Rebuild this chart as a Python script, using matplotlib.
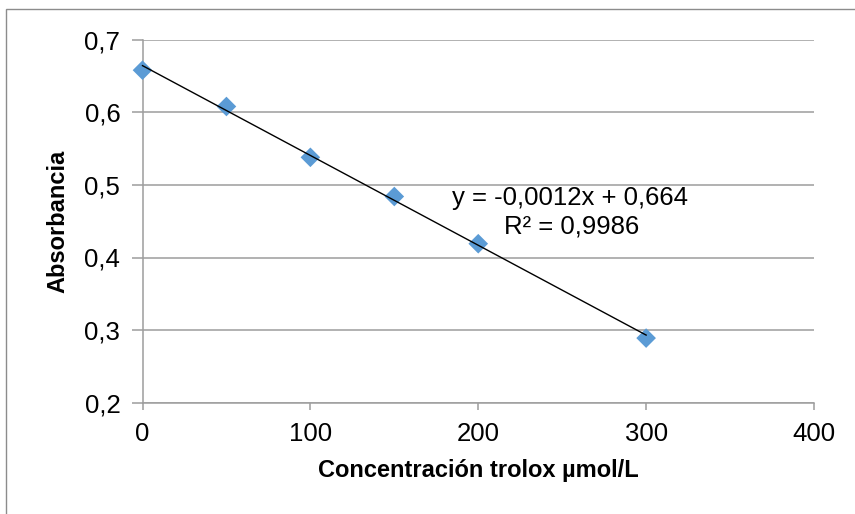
import numpy as np
import matplotlib
matplotlib.use("Agg")
import matplotlib.pyplot as plt
from matplotlib.patches import Rectangle
from matplotlib.ticker import FuncFormatter

# Trolox calibration data
concentracion = [0, 50, 100, 150, 200, 300]          # µmol/L
absorbancia = [0.658, 0.608, 0.538, 0.484, 0.419, 0.289]
x_ticks = [0, 100, 200, 300, 400]
y_ticks = [0.2, 0.3, 0.4, 0.5, 0.6, 0.7]

plt.rcParams['font.family'] = ['Liberation Sans', 'DejaVu Sans']

W, H = 855, 514
fig = plt.figure(figsize=(W / 100, H / 100), dpi=100)

# outer chart frame (left and top edges visible)
fig.patches.append(Rectangle((6 / W, -0.2), 1.5, 1 - 9 / H + 0.2,
                             transform=fig.transFigure, fill=False,
                             edgecolor='#8c8c8c', lw=1.0))

left, right = 142.5 / W, 814 / W
top, bottom = 1 - 39.7 / H, 1 - 402.7 / H
ax = fig.add_axes([left, bottom, right - left, top - bottom])

grid_c = '#9d9d9d'
ax.set_xlim(0, 400)
ax.set_ylim(0.2, 0.7)
ax.set_xticks(x_ticks)
ax.set_yticks(y_ticks)
ax.yaxis.set_major_formatter(FuncFormatter(lambda v, p: f"{v:.1f}".replace('.', ',')))
ax.xaxis.set_major_formatter(FuncFormatter(lambda v, p: f"{v:.0f}"))
ax.grid(axis='y', color=grid_c, lw=1.1)
ax.set_axisbelow(True)
for s in ('top', 'right'):
    ax.spines[s].set_visible(False)
for s in ('left', 'bottom'):
    ax.spines[s].set_color(grid_c)
    ax.spines[s].set_linewidth(1.1)
ax.tick_params(axis='x', length=5, width=1.1, color=grid_c, pad=9,
               labelsize=18.5, labelcolor='black')
ax.tick_params(axis='y', length=8, width=1.1, color=grid_c, pad=8,
               labelsize=18.5, labelcolor='black')

# linear least-squares trendline
xs = np.array(concentracion, dtype=float)
ys = np.array(absorbancia, dtype=float)
m, b = np.polyfit(xs, ys, 1)
pred = m * xs + b
r2 = 1 - np.sum((ys - pred) ** 2) / np.sum((ys - ys.mean()) ** 2)
xl = np.array([xs.min(), xs.max()])
ax.plot(xl, m * xl + b, color='black', lw=1.0, zorder=4, clip_on=False)
ax.scatter(xs, ys, marker='D', s=100, color='#5b9bd5', edgecolors='none',
           zorder=3, clip_on=False)

eq = f"y = {m:.4f}x + {b:.3f}".replace('.', ',')
r2_txt = f"R² = {r2:.4f}".replace('.', ',')
ax.text(254.5, 0.4825, eq, ha='center', va='center', fontsize=18.5)
ax.text(255.5, 0.4425, r2_txt, ha='center', va='center', fontsize=18.5)

ax.set_xlabel('Concentración trolox µmol/L', fontsize=17, fontweight='bold')
ax.xaxis.set_label_coords(0.5, -0.1854)
ax.xaxis.label.set_va('center')
ax.set_ylabel('Absorbancia', fontsize=17, fontweight='bold')
ax.yaxis.set_label_coords(-0.1254, 0.5)
ax.yaxis.label.set_va('center')

fig.savefig('out.png', dpi=100)
